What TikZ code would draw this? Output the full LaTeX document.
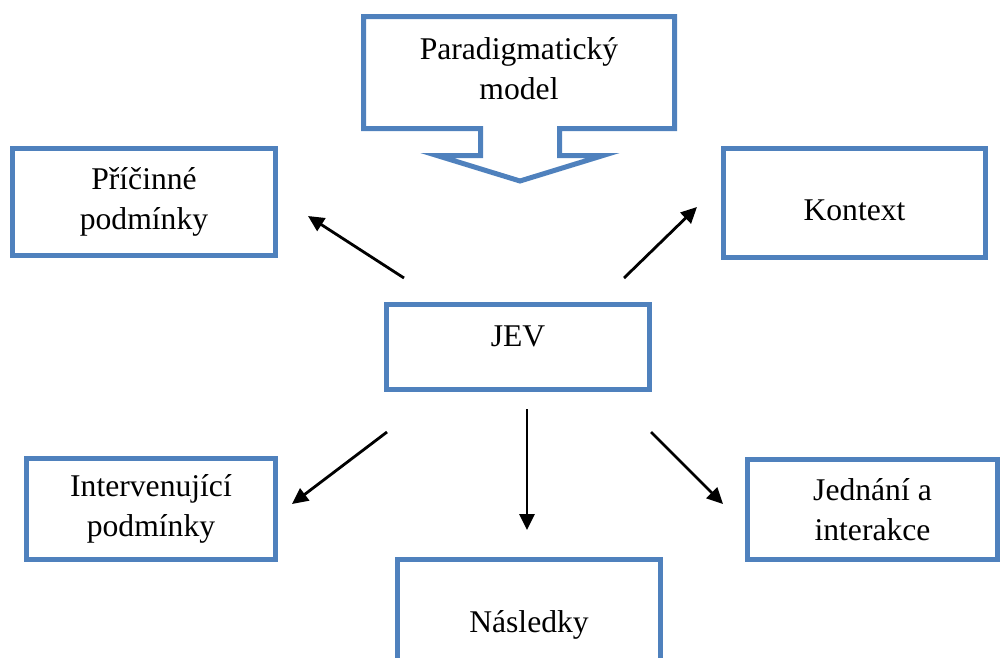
\documentclass[tikz,border=0pt]{standalone}
\usepackage{fontspec}
\setmainfont{Liberation Serif}
\usetikzlibrary{arrows.meta}
\definecolor{boxblue}{RGB}{79,129,189}
\begin{document}
\begin{tikzpicture}[x=0.02cm,y=-0.02cm,inner sep=0pt,outer sep=0pt,
font=\fontsize{18}{22.7}\selectfont,>={Triangle[length=0.32cm,width=0.3cm]},
blok/.style={draw=boxblue,rectangle,line width=0.1cm,align=center},
sipka/.style={->,line width=1.6pt}]
\useasboundingbox (0,0) rectangle (1000,657);
\clip (0,0) rectangle (1000,657);
\draw[boxblue,line width=0.1cm] (363.5,16.5) -- (674.5,16.5) -- (674.5,128.5) -- (559.5,128.5)
  -- (559.5,155.5) -- (603,155.5) -- (520,181) -- (437,155.5) -- (480.5,155.5)
  -- (480.5,128.5) -- (363.5,128.5) -- cycle;
\draw (519,69) node[align=center] (para) {Paradigmatický\\model};
\draw (144,202) node[blok,minimum width=5.26cm,minimum height=2.14cm] (pric) {Příčinné\\podmínky};
\draw (854.5,203) node[blok,minimum width=5.24cm,minimum height=2.18cm,text height=0.68cm,text depth=0cm] (kontext) {Kontext};
\draw (518,347) node[blok,minimum width=5.26cm,minimum height=1.70cm,text height=0.3cm,text depth=0.34cm] (jev) {JEV};
\draw (151,509) node[blok,minimum width=4.98cm,minimum height=2.02cm] (interv) {Intervenující\\podmínky};
\draw (872.5,509.5) node[blok,minimum width=5cm,minimum height=2cm] (jednani) {Jednání a\\interakce};
\draw (529,614.5) node[blok,minimum width=5.26cm,minimum height=2.2cm,text height=0.7cm,text depth=0cm] (nasl) {Následky};
\coordinate (s1) at (404,278); \coordinate (e1) at (308,216);
\coordinate (s2) at (624,278); \coordinate (e2) at (697,207);
\coordinate (s3) at (387,432); \coordinate (e3) at (292,504);
\coordinate (s4) at (527,409); \coordinate (e4) at (527,530);
\coordinate (s5) at (651,432); \coordinate (e5) at (723,504);
\draw[sipka] (s1) -- (e1);
\draw[sipka] (s2) -- (e2);
\draw[sipka] (s3) -- (e3);
\draw[sipka] (s4) -- (e4);
\draw[sipka] (s5) -- (e5);
\end{tikzpicture}
\end{document}
